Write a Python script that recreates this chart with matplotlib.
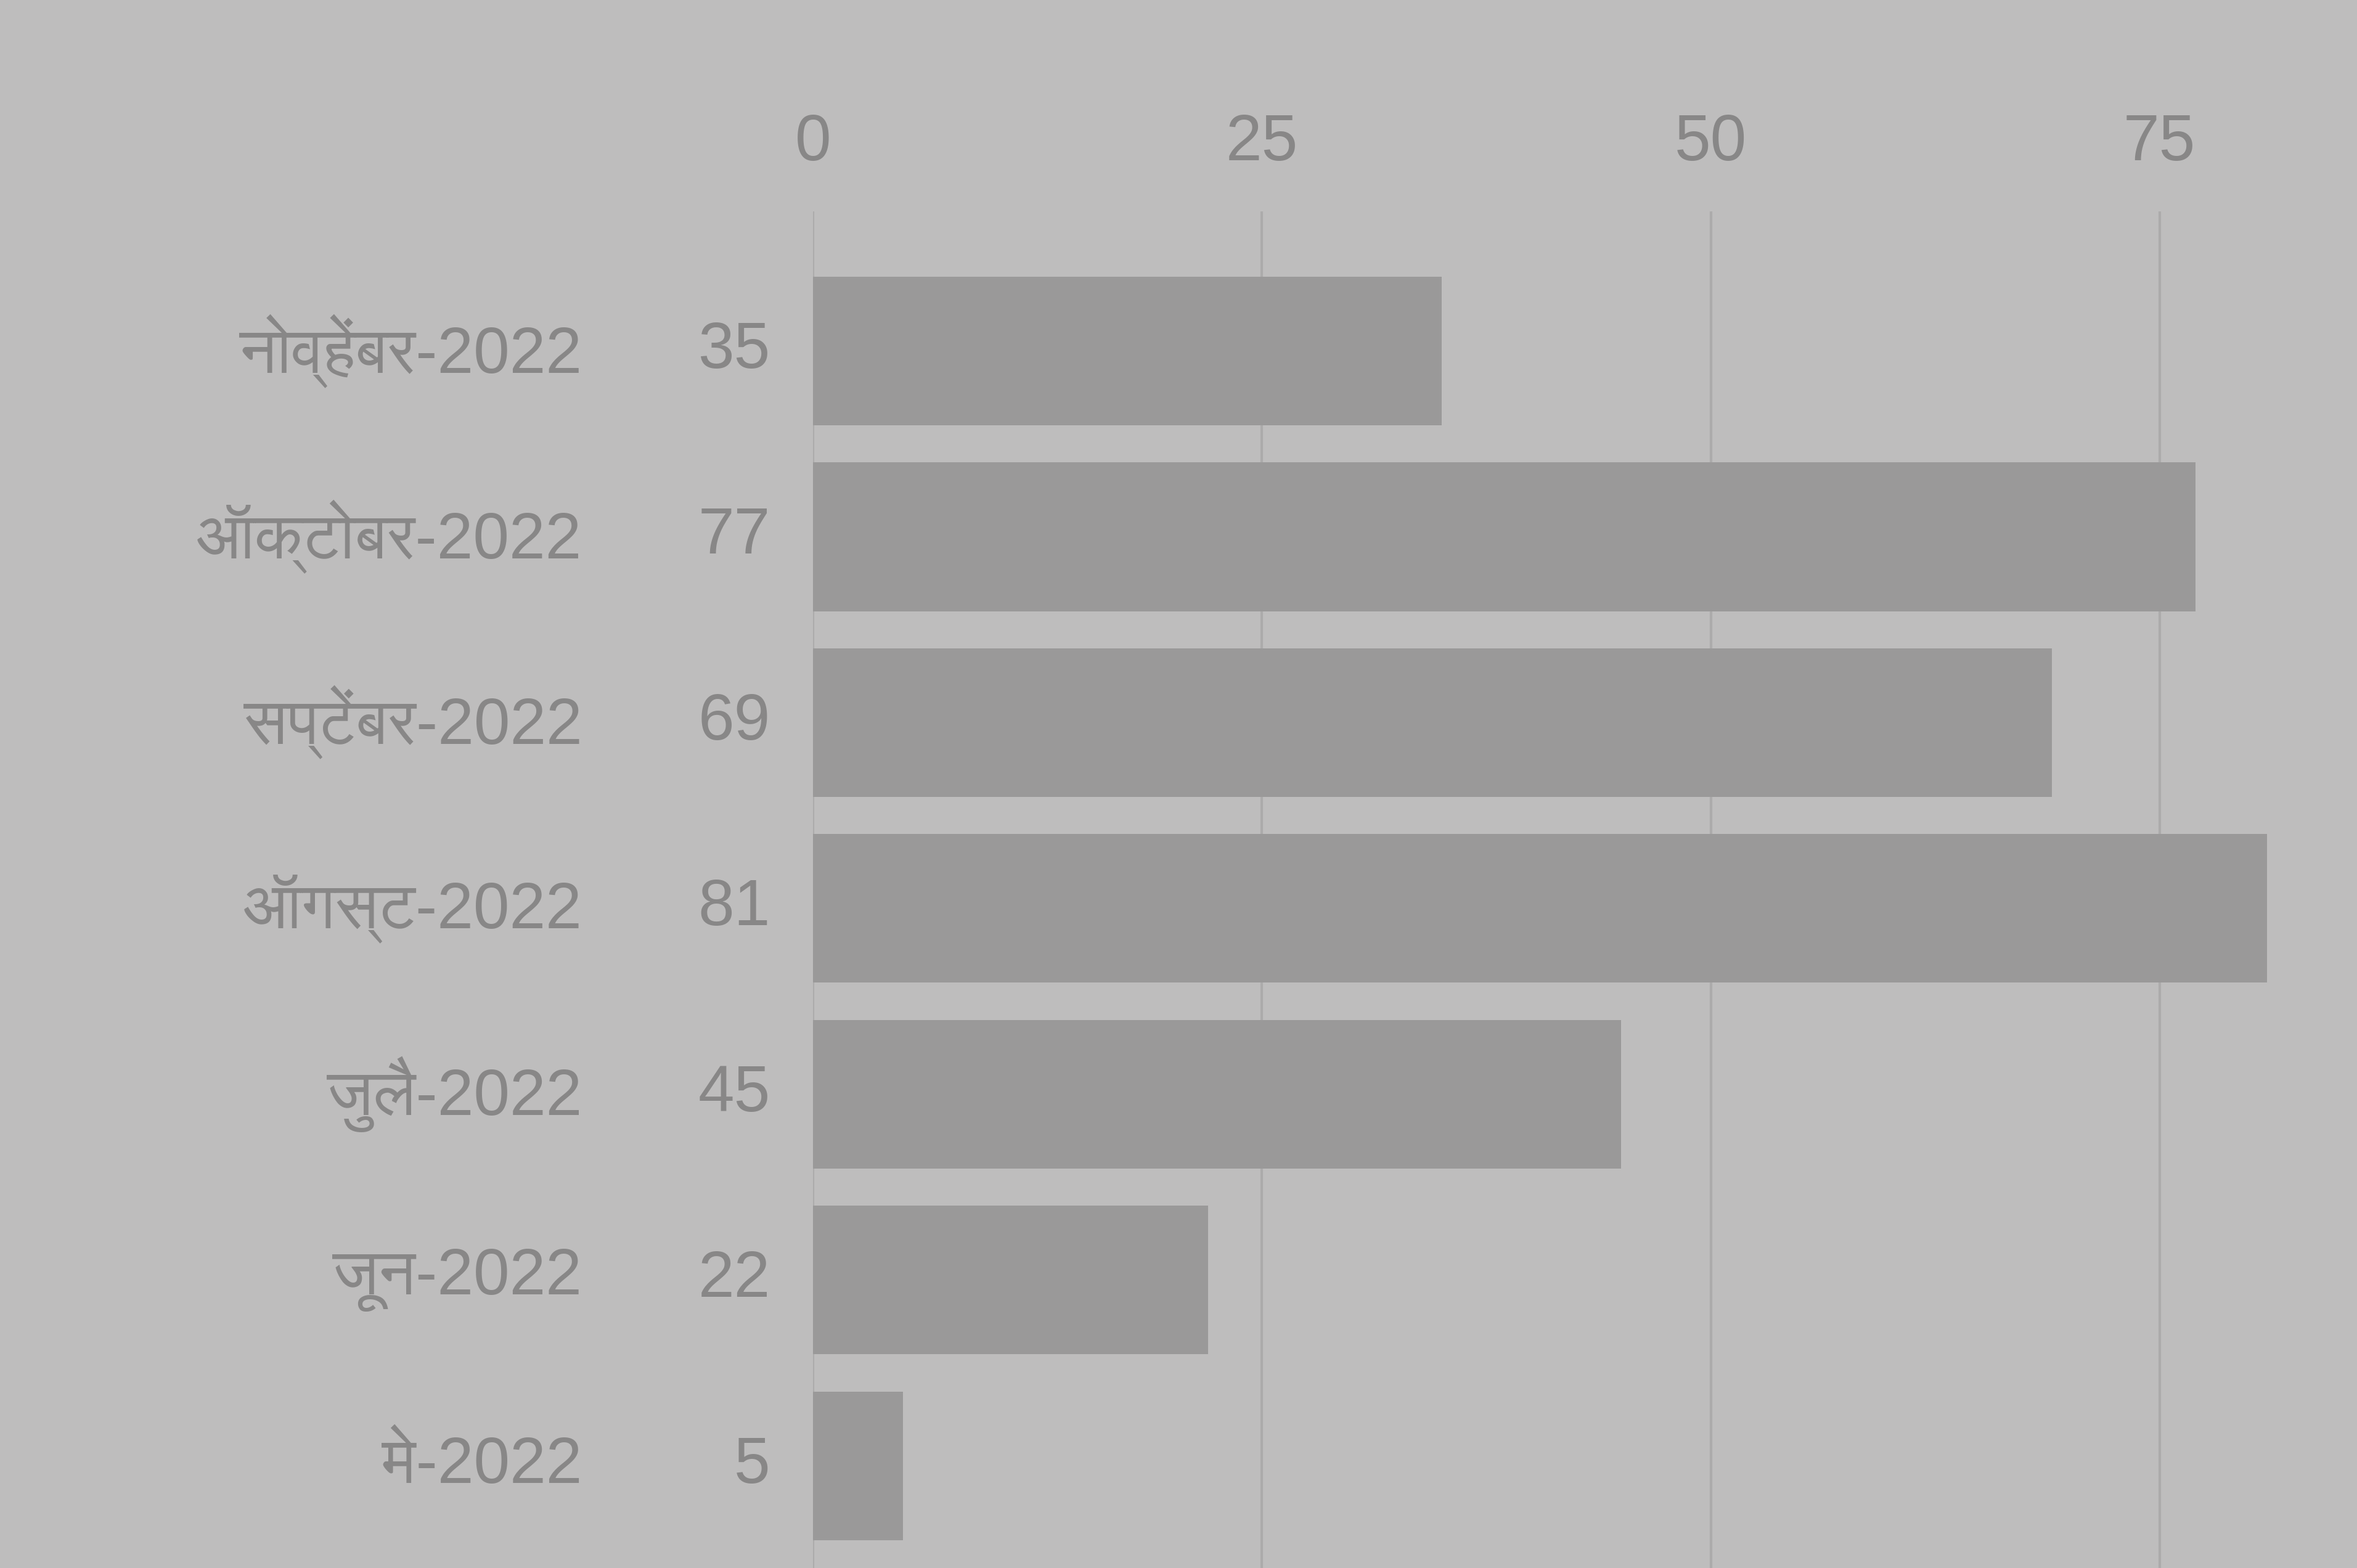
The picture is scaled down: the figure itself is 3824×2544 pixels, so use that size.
import sys
import matplotlib
matplotlib.use("Agg")
import matplotlib.pyplot as plt
from matplotlib import font_manager
from matplotlib.ft2font import FT2Font

months = ["नोव्हेंबर-2022", "ऑक्टोबर-2022", "सप्टेंबर-2022", "ऑगस्ट-2022",
          "जुलै-2022", "जून-2022", "मे-2022"]
values = [35, 77, 69, 81, 45, 22, 5]
ticks = [0, 25, 50, 75]

# find fonts with Devanagari glyphs, prefer proportional sans fonts
cands = []
for f in font_manager.fontManager.ttflist:
    try:
        ft = FT2Font(f.fname)
        if ft.get_char_index(ord("न")) and ft.get_char_index(ord("ब")):
            score = 0
            if "mono" in f.name.lower() or "unifont" in f.name.lower():
                score += 10
            if "sans" not in f.name.lower():
                score += 2
            cands.append((score, f.name))
    except Exception:
        pass
cands.sort()
deva = cands[0][1] if cands else None
families = ["Liberation Sans", "DejaVu Sans"] + ([deva] if deva else [])
plt.rcParams["font.family"] = families

bg = "#bebdbd"
bar_c = "#9a9999"
txt_c = "#888787"

fig = plt.figure(figsize=(19.12, 12.72), dpi=200, facecolor=bg)
ax = fig.add_axes([0.345, 0.0, 0.655, 0.865], facecolor=bg)

y = list(range(len(months)))
ax.barh(y, values, height=0.8, color=bar_c, zorder=2)
ax.set_ylim(len(months) - 0.45, -0.75)
ax.set_xlim(0, 86)
ax.xaxis.tick_top()
ax.set_xticks(ticks)
ax.tick_params(axis="x", length=0, labelsize=38, labelcolor=txt_c, pad=22)
ax.set_yticks([])
for s in ax.spines.values():
    s.set_visible(False)
ax.grid(axis="x", color="#acabab", linewidth=1.5, zorder=1)

for yi, m, v in zip(y, months, values):
    ax.annotate(str(v), xy=(0, yi), xytext=(-25, 0), textcoords="offset points",
                ha="right", va="center", fontsize=38, color=txt_c)
    ax.annotate(m, xy=(0, yi), xytext=(-135, 0), textcoords="offset points",
                ha="right", va="center", fontsize=38, color=txt_c)

fig.savefig("out.png", dpi=200, facecolor=bg)
